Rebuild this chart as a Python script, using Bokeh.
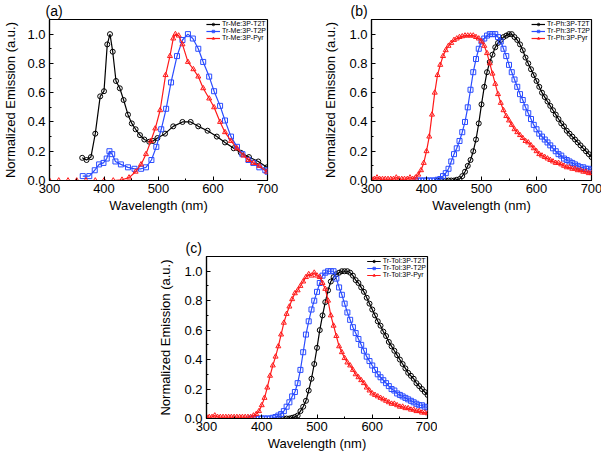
from bokeh.plotting import figure
from bokeh.models import (Range1d, SingleIntervalTicker, NumeralTickFormatter,
                          Legend, LegendItem, Title, Spacer)
from bokeh.layouts import column, row
from bokeh.embed import file_html
from bokeh.resources import INLINE

# ---------------- data ----------------
WL5 = [300, 305, 310, 315, 320, 325, 330, 335, 340, 345, 350, 355, 360, 365, 370, 375,
       380, 385, 390, 395, 400, 405, 410, 415, 420, 425, 430, 435, 440, 445, 450, 455,
       460, 465, 470, 475, 480, 485, 490, 495, 500, 505, 510, 515, 520, 525, 530, 535,
       540, 545, 550, 555, 560, 565, 570, 575, 580, 585, 590, 595, 600, 605, 610, 615,
       620, 625, 630, 635, 640, 645, 650, 655, 660, 665, 670, 675, 680, 685, 690, 695, 700]

# panel (a)
A_T2T_WL = [360, 368, 376, 384, 393, 400, 406, 411, 416, 422, 429, 436, 444, 451, 458, 466,
            474, 483, 490, 498, 512, 527, 544, 559, 573, 590, 607, 622, 638, 651, 666, 683, 699]
A_T2T = [0.155, 0.14, 0.16, 0.32, 0.575, 0.61, 0.93, 1.0, 0.88, 0.68, 0.63, 0.55, 0.45, 0.39,
         0.35, 0.31, 0.28, 0.265, 0.27, 0.29, 0.32, 0.37, 0.40, 0.40, 0.37, 0.34, 0.30, 0.26,
         0.22, 0.19, 0.16, 0.13, 0.09]
A_T2P_WL = [361, 373, 383, 391, 399, 405, 410, 415, 421, 431, 444, 456, 468, 477, 487, 496,
            505, 514, 523, 534, 544, 554, 563, 573, 582, 593, 602, 613, 622, 633, 644, 654,
            665, 674, 685, 696, 700]
A_T2P = [0.03, 0.03, 0.07, 0.11, 0.12, 0.15, 0.20, 0.18, 0.13, 0.11, 0.09, 0.08, 0.08, 0.09,
         0.14, 0.23, 0.35, 0.49, 0.67, 0.85, 0.96, 1.0, 0.97, 0.90, 0.81, 0.71, 0.61, 0.51,
         0.41, 0.30, 0.23, 0.18, 0.14, 0.12, 0.09, 0.07, 0.06]
A_PYR_WL = [300, 317, 334, 350, 367, 384, 400, 417, 433, 446, 458, 468, 477, 486, 494, 503,
            513, 521, 527, 531, 537, 544, 554, 564, 573, 582, 593, 602, 613, 622, 633, 644,
            656, 665, 674, 685, 699]
A_PYR = [0, 0, 0, 0, 0, 0, 0, 0, 0.005, 0.02, 0.06, 0.11, 0.18, 0.27, 0.355, 0.48, 0.72,
         0.85, 0.97, 1.0, 0.99, 0.93, 0.81, 0.76, 0.71, 0.63, 0.56, 0.50, 0.40, 0.33, 0.27,
         0.22, 0.17, 0.14, 0.12, 0.10, 0.06]

# panel (b)
B_T2T = [0, 0, 0, 0, 0, 0, 0, 0.005, 0.01, 0.03, 0.06, 0.10, 0.14, 0.20, 0.28, 0.39, 0.52,
         0.64, 0.74, 0.81, 0.86, 0.91, 0.94, 0.96, 0.98, 0.99, 1.0, 1.0, 0.98, 0.96, 0.93,
         0.89, 0.84, 0.80, 0.76, 0.72, 0.68, 0.64, 0.60, 0.57, 0.54, 0.51, 0.48, 0.45, 0.42,
         0.39, 0.37, 0.34, 0.32, 0.30, 0.28, 0.26, 0.24, 0.22, 0.20, 0.18, 0.16]      # 420-700
B_T2P = [0, 0, 0, 0, 0, 0, 0, 0, 0.005, 0.01, 0.03, 0.05, 0.08, 0.13, 0.18, 0.22, 0.27,
         0.33, 0.40, 0.50, 0.62, 0.74, 0.83, 0.90, 0.95, 0.97, 0.99, 1.0, 1.0, 1.0, 0.98,
         0.95, 0.90, 0.85, 0.79, 0.74, 0.69, 0.64, 0.59, 0.55, 0.50, 0.46, 0.42, 0.38, 0.35,
         0.32, 0.30, 0.28, 0.26, 0.24, 0.22, 0.20, 0.18, 0.17, 0.15, 0.14, 0.13, 0.12, 0.11,
         0.10, 0.09, 0.09, 0.08, 0.08, 0.07]                                          # 380-700
B_PYR = [0.01, 0.01, 0.02, 0.01, 0.01, 0.01, 0.01, 0.01, 0.01, 0.02, 0.01, 0.01, 0.01, 0.01,
         0.02, 0.01, 0.02, 0.04, 0.07, 0.12, 0.20, 0.30, 0.45, 0.60, 0.72, 0.79, 0.85, 0.89,
         0.92, 0.94, 0.96, 0.97, 0.98, 0.985, 0.99, 0.99, 0.99, 0.99, 0.98, 0.97, 0.95, 0.92,
         0.87, 0.80, 0.73, 0.66, 0.59, 0.53, 0.48, 0.44, 0.41, 0.38, 0.35, 0.33, 0.31, 0.29,
         0.27, 0.26, 0.24, 0.22, 0.20, 0.18, 0.17, 0.16, 0.15, 0.14, 0.13, 0.12, 0.12, 0.11,
         0.10, 0.09, 0.09, 0.08, 0.08, 0.07, 0.07, 0.06, 0.06, 0.05, 0.05]           # 300-700

# panel (c)
C_T2T = [0, 0, 0, 0, 0, 0.005, 0.01, 0.02, 0.05, 0.08, 0.12, 0.19, 0.27, 0.37, 0.48, 0.60,
         0.70, 0.79, 0.87, 0.93, 0.96, 0.98, 0.99, 1.0, 1.0, 1.0, 0.99, 0.97, 0.94, 0.92,
         0.89, 0.86, 0.82, 0.78, 0.74, 0.70, 0.66, 0.63, 0.59, 0.56, 0.52, 0.49, 0.46, 0.43,
         0.40, 0.37, 0.34, 0.31, 0.29, 0.27, 0.24, 0.22, 0.20, 0.18, 0.16]            # 430-700
C_T2P = [0, 0, 0, 0, 0, 0, 0, 0, 0.005, 0.01, 0.02, 0.03, 0.05, 0.08, 0.11, 0.15, 0.18,
         0.24, 0.33, 0.45, 0.57, 0.66, 0.74, 0.80, 0.86, 0.92, 0.97, 0.99, 1.0, 1.0, 1.0,
         0.95, 0.89, 0.84, 0.78, 0.72, 0.67, 0.62, 0.58, 0.54, 0.50, 0.46, 0.42, 0.39, 0.36,
         0.33, 0.30, 0.28, 0.26, 0.24, 0.22, 0.20, 0.19, 0.17, 0.16, 0.15, 0.14, 0.13, 0.12,
         0.11, 0.10, 0.09, 0.09, 0.08, 0.075]                                         # 380-700
C_PYR = [0.01, 0.01, 0.01, 0.02, 0.01, 0.01, 0.01, 0.01, 0.01, 0.01, 0.01, 0.01, 0.01, 0.01,
         0.01, 0.01, 0.01, 0.02, 0.03, 0.05, 0.09, 0.14, 0.21, 0.29, 0.36, 0.42, 0.49, 0.57,
         0.65, 0.71, 0.76, 0.81, 0.85, 0.87, 0.90, 0.93, 0.96, 0.98, 0.97, 0.99, 0.97, 0.96,
         0.92, 0.88, 0.80, 0.70, 0.63, 0.56, 0.49, 0.45, 0.41, 0.38, 0.36, 0.33, 0.30, 0.28,
         0.26, 0.24, 0.21, 0.19, 0.17, 0.16, 0.15, 0.14, 0.13, 0.12, 0.11, 0.10, 0.10, 0.09,
         0.08, 0.08, 0.07, 0.07, 0.06, 0.06, 0.05, 0.05, 0.04, 0.04, 0.035]          # 300-700

NAMES_A = ["Tr-Me:3P-T2T", "Tr-Me:3P-T2P", "Tr-Me:3P-Pyr"]
NAMES_B = ["Tr-Ph:3P-T2T", "Tr-Ph:3P-T2P", "Tr-Ph:3P-Pyr"]
NAMES_C = ["Tr-Tol:3P-T2T", "Tr-Tol:3P-T2P", "Tr-Tol:3P-Pyr"]
X_TICK_STEP = 100
Y_TICK_STEP = 0.2

# ---------------- styling ----------------
FONT = "Liberation Sans"
COLORS = ["#000000", "#2a4cff", "#ff1a1a"]
MARKERS = ["circle", "square", "triangle"]


def make_panel(tag, names, series, bl, fw, br, bt, fh, bb, ylab_standoff, tag_offset):
    title = Title(text=tag, align="left", offset=tag_offset, standoff=1,
                  text_font=FONT, text_font_size="14px", text_font_style="normal",
                  text_color="black")
    p = figure(frame_width=fw, frame_height=fh, title=title,
               min_border_left=bl, min_border_right=br,
               min_border_top=bt, min_border_bottom=bb,
               x_range=Range1d(300, 700), y_range=Range1d(0, 1.1),
               output_backend="svg", toolbar_location=None)
    p.xgrid.visible = False
    p.ygrid.visible = False
    p.outline_line_color = "black"
    p.outline_line_width = 1.2
    p.outline_line_alpha = 1.0
    p.background_fill_color = "white"
    p.border_fill_color = "white"

    p.xaxis.ticker = SingleIntervalTicker(interval=X_TICK_STEP, num_minor_ticks=2)
    p.yaxis.ticker = SingleIntervalTicker(interval=Y_TICK_STEP, num_minor_ticks=2)
    p.yaxis.formatter = NumeralTickFormatter(format="0.0")
    p.xaxis.axis_label = "Wavelength (nm)"
    p.yaxis.axis_label = "Normalized Emission (a.u.)"
    for ax in (p.xaxis[0], p.yaxis[0]):
        ax.axis_line_color = "black"
        ax.axis_line_width = 1.2
        ax.major_tick_in = 4
        ax.major_tick_out = 0
        ax.minor_tick_in = 2
        ax.minor_tick_out = 0
        ax.major_tick_line_color = "black"
        ax.minor_tick_line_color = "black"
        ax.major_label_text_font = FONT
        ax.major_label_text_font_size = "13px"
        ax.major_label_text_color = "black"
        ax.axis_label_text_font = FONT
        ax.axis_label_text_font_size = "13px"
        ax.axis_label_text_font_style = "normal"
        ax.axis_label_text_color = "black"
    p.xaxis.major_label_standoff = 3
    p.xaxis.axis_label_standoff = 2
    p.yaxis.major_label_standoff = 4
    p.yaxis.axis_label_standoff = ylab_standoff

    items = []
    for name, (wl, vals), col, mk in zip(names, series, COLORS, MARKERS):
        ln = p.line(wl, vals, line_color=col, line_width=1.2)
        sc = p.scatter(wl, vals, marker=mk, size=5, fill_color=None,
                       line_color=col, line_width=1)
        items.append(LegendItem(label=name, renderers=[ln, sc]))
    leg = Legend(items=items, location="top_right",
                 label_text_font=FONT, label_text_font_size="7px",
                 label_text_color="black",
                 glyph_width=14, glyph_height=6, label_height=6,
                 label_standoff=2, spacing=0, padding=2, margin=1,
                 border_line_color=None, background_fill_alpha=0)
    p.add_layout(leg)
    return p


pa = make_panel("(a)", NAMES_A,
                [(A_T2T_WL, A_T2T), (A_T2P_WL, A_T2P), (A_PYR_WL, A_PYR)],
                46, 218, 36, 19, 161, 50, 6, -4)
pb = make_panel("(b)", NAMES_B,
                [(WL5[24:], B_T2T), (WL5[16:], B_T2P), (WL5, B_PYR)],
                68, 220, 12, 19, 161, 50, 8, -21)
pc = make_panel("(c)", NAMES_C,
                [(WL5[26:], C_T2T), (WL5[16:], C_T2P), (WL5, C_PYR)],
                68, 221, 10, 26, 162, 34, 8, -21)

layout = column(row(pa, pb), row(Spacer(width=138, height=10), pc))

open("out.html", "w").write(file_html(layout, INLINE))
